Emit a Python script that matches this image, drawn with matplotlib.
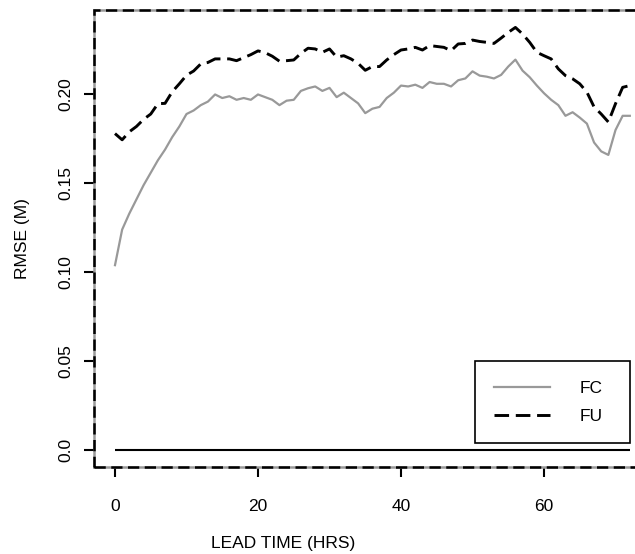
import matplotlib
matplotlib.use("Agg")
import matplotlib.pyplot as plt
from matplotlib.patches import Rectangle

# lead time in hours and RMSE for each run
lead_time = list(range(0, 73))

fc = [0.104, 0.124, 0.133, 0.141, 0.149, 0.156, 0.163, 0.169, 0.176, 0.182,
      0.189, 0.191, 0.194, 0.196, 0.200, 0.198, 0.199, 0.197, 0.198, 0.197,
      0.200, 0.1985, 0.197, 0.194, 0.1965, 0.197, 0.202, 0.2035, 0.2045, 0.202,
      0.2037, 0.1985, 0.201, 0.198, 0.195, 0.1895, 0.192, 0.193, 0.198, 0.201,
      0.205, 0.2045, 0.2055, 0.2037, 0.207, 0.206, 0.206, 0.2045, 0.208, 0.209,
      0.213, 0.2106, 0.210, 0.209, 0.211, 0.2157, 0.2196, 0.2134, 0.2097, 0.205,
      0.2007, 0.197, 0.194, 0.188, 0.190, 0.187, 0.1836, 0.173, 0.168, 0.166,
      0.180, 0.188, 0.188]

fu = [0.178, 0.1745, 0.179, 0.182, 0.186, 0.189, 0.1948, 0.195, 0.2015, 0.206,
      0.2108, 0.2132, 0.2172, 0.218, 0.220, 0.220, 0.220, 0.219, 0.2207, 0.2224,
      0.2245, 0.2235, 0.2215, 0.2187, 0.219, 0.2194, 0.2231, 0.226, 0.2256, 0.2237,
      0.2256, 0.221, 0.2218, 0.220, 0.2175, 0.2136, 0.2157, 0.2157, 0.2194, 0.2224,
      0.225, 0.2256, 0.2265, 0.225, 0.2275, 0.227, 0.2265, 0.2246, 0.2284, 0.2287,
      0.2306, 0.2298, 0.2293, 0.2287, 0.2317, 0.2349, 0.2377, 0.234, 0.2293, 0.2237,
      0.2218, 0.220, 0.2144, 0.2106, 0.2088, 0.206, 0.2013, 0.193, 0.189, 0.1845,
      0.1948, 0.204, 0.205]

zero = [0.0] * len(lead_time)

x_ticks = [0, 20, 40, 60]
y_ticks = [0.0, 0.05, 0.10, 0.15, 0.20]
y_tick_labels = ["0.0", "0.05", "0.10", "0.15", "0.20"]

plt.rcParams["font.family"] = ["Liberation Sans", "DejaVu Sans"]
plt.rcParams["font.size"] = 12.5

W, H = 635, 554
fig = plt.figure(figsize=(W / 100, H / 100), dpi=100)
# axes runs past the right edge of the picture, like the cropped original
ax = fig.add_axes([94.4 / W, 87 / H, 556 / W, 457 / H])

ax.plot(lead_time, zero, color="black", lw=1.5, solid_capstyle="butt")
ax.plot(lead_time, fc, color="#999999", lw=1.6, label="FC")
ax.plot(lead_time, fu, color="black", lw=2.1, linestyle=(0, (5, 2.3)), label="FU")

ax.set_xlim(-2.88, 74.88)
ax.set_ylim(-0.0095, 0.2475)
ax.set_xticks(x_ticks)
ax.set_yticks(y_ticks)
ax.set_yticklabels(y_tick_labels, rotation=90, va="center")
ax.tick_params(length=7, width=1.5, color="black", labelsize=12.5)
ax.tick_params(axis="x", pad=16)
ax.tick_params(axis="y", pad=8)

ax.set_xlabel("LEAD TIME (HRS)", fontsize=12.5)
ax.set_ylabel("RMSE (M)", fontsize=12.5)
ax.xaxis.set_label_coords((283 - 94.4) / 556, -(536 - 467) / 457)
ax.yaxis.set_label_coords(-(94.4 - 30) / 556, 0.5)

# frame: grey line with black dashes on top
for s in ax.spines.values():
    s.set_color("#999999")
    s.set_linewidth(1.8)
ax.add_patch(Rectangle((0, 0), 1, 1, transform=ax.transAxes, fill=False,
                       edgecolor="black", lw=1.8, linestyle=(0, (4.5, 2.2)),
                       clip_on=False, zorder=5))

leg = ax.legend(loc="lower left", mode="expand",
                bbox_to_anchor=(475 / W, (H - 443) / H, 155 / W, 80 / H),
                bbox_transform=fig.transFigure, frameon=True, fancybox=False,
                edgecolor="black", framealpha=1, handlelength=3.2,
                handletextpad=1.7, borderpad=1.1, labelspacing=0.75,
                borderaxespad=0)
leg.get_frame().set_linewidth(1.2)

fig.savefig("out.png", dpi=100)
